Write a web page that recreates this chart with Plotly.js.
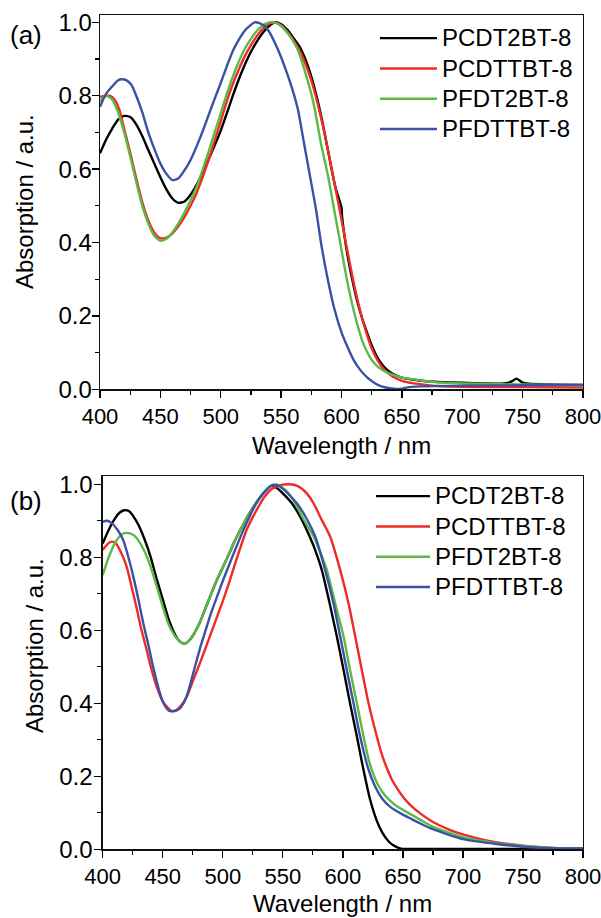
<!DOCTYPE html>
<html>
<head>
<meta charset="utf-8">
<script src="https://cdn.plot.ly/plotly-3.0.1.min.js"></script>
<style>
html,body{margin:0;padding:0;background:#fff;}
#chart{width:601px;height:918px;}
</style>
</head>
<body>
<div id="chart"></div>
<script>
// ---------- DATA ----------
const seriesNames = ['PCDT2BT-8', 'PCDTTBT-8', 'PFDT2BT-8', 'PFDTTBT-8'];
const xTickValues = [400, 450, 500, 550, 600, 650, 700, 750, 800];
const yTickValues = [0.0, 0.2, 0.4, 0.6, 0.8, 1.0];

// Panel (a)
const a_PCDT2BT_x = [400,405,410,415,420,425,430,435,440,445,450,455,460,465,470,475,480,485,490,495,500,505,510,515,520,525,530,535,540,545,550,555,560,565,570,575,580,585,590,595,600,600.5,605,610,615,620,625,630,635,640,645,650,660,670,680,700,720,735,740,745,750,755,770,800];
const a_PCDT2BT_y = [0.643,0.68,0.71,0.735,0.745,0.742,0.722,0.69,0.652,0.615,0.578,0.545,0.52,0.508,0.512,0.53,0.557,0.59,0.627,0.665,0.705,0.752,0.80,0.845,0.885,0.92,0.948,0.972,0.99,1.0,0.995,0.98,0.958,0.935,0.90,0.852,0.79,0.715,0.63,0.55,0.495,0.47,0.365,0.282,0.216,0.165,0.12,0.085,0.062,0.047,0.038,0.032,0.026,0.022,0.02,0.018,0.016,0.016,0.02,0.029,0.018,0.015,0.013,0.012];

const a_PCDTTBT_x = [400,405,408,412,416,420,425,430,435,440,445,450,455,460,465,470,475,480,485,490,495,500,505,510,515,520,525,530,535,540,545,550,555,560,565,570,575,580,585,590,595,600,605,610,615,620,625,630,635,640,645,650,660,670,680,700,750,800];
const a_PCDTTBT_y = [0.797,0.80,0.80,0.79,0.762,0.71,0.645,0.575,0.51,0.46,0.427,0.412,0.413,0.425,0.445,0.47,0.50,0.535,0.578,0.625,0.678,0.73,0.785,0.832,0.872,0.908,0.938,0.963,0.983,0.996,1.0,0.992,0.975,0.952,0.925,0.888,0.842,0.782,0.712,0.632,0.548,0.462,0.375,0.292,0.22,0.16,0.112,0.078,0.055,0.04,0.03,0.023,0.016,0.012,0.009,0.007,0.006,0.005];

const a_PFDT2BT_x = [400,405,410,415,420,425,430,435,440,445,450,455,460,465,470,475,480,485,490,495,500,505,510,515,520,525,530,535,540,545,550,555,561,565,571,575,578,583,589,594,599,604,610,618,625,630,637.5,645,650,660,670,680,700,750,800];
const a_PFDT2BT_y = [0.785,0.80,0.79,0.755,0.70,0.635,0.565,0.50,0.452,0.418,0.405,0.41,0.428,0.452,0.482,0.515,0.552,0.598,0.648,0.70,0.752,0.805,0.852,0.893,0.928,0.955,0.977,0.992,1.0,0.999,0.99,0.972,0.943,0.915,0.852,0.805,0.761,0.67,0.579,0.488,0.398,0.307,0.216,0.125,0.08,0.062,0.046,0.037,0.032,0.027,0.022,0.019,0.016,0.013,0.011];

const a_PFDTTBT_x = [400,405,410,415,418,422,426,430,435,440,445,450,455,460,465,470,475,480,485,490,495,500,505,510,515,520,525,528,532,536,540,545,550,555,560,564,569,574,579,583,588,594,600,605,610,615,621,627,633,640,646,650,656,665,700,750,800];
const a_PFDTTBT_y = [0.77,0.805,0.825,0.842,0.845,0.842,0.83,0.80,0.755,0.70,0.655,0.615,0.587,0.57,0.575,0.597,0.625,0.662,0.703,0.748,0.792,0.835,0.88,0.922,0.953,0.978,0.993,1.0,0.998,0.99,0.975,0.943,0.905,0.86,0.81,0.761,0.67,0.579,0.488,0.40,0.31,0.22,0.155,0.115,0.08,0.055,0.033,0.018,0.008,0.003,0.001,0.002,0.006,0.008,0.01,0.011,0.012];

// Panel (b)
const b_PCDT2BT_x = [400,405,410,414,418,422,426,430,435,440,445,450,455,460,464,468,472,476,480,485,490,495,500,506,510,515,520,525,530,535,540,545,550,557.5,565,573,577.5,582.5,589,595,600.6,606,611.7,615.8,619,622.8,628.3,633,638,642,646.4,650,660,700,750,800];
const b_PCDT2BT_y = [0.838,0.875,0.905,0.922,0.929,0.926,0.91,0.887,0.848,0.80,0.74,0.685,0.63,0.59,0.57,0.563,0.572,0.59,0.615,0.655,0.697,0.737,0.772,0.815,0.845,0.877,0.908,0.935,0.96,0.98,0.995,0.99,0.975,0.948,0.908,0.852,0.815,0.765,0.674,0.583,0.491,0.40,0.309,0.24,0.19,0.135,0.078,0.045,0.022,0.011,0.004,0.001,0.001,0.001,0.001,0.001];

const b_PCDTTBT_x = [400,404,407.5,411,415,420,424,428,432,436.6,440,445,450,453.3,457.5,461,465,470,475,481,490,500,506,510,515,520,525,530,534,540,545,550,555,560,565,570,575.6,582,589.4,597.8,604.7,610.3,615.8,621.4,628.3,632,636.7,641,646,651,656,665,675,690,700,725,750,775,800];
const b_PCDTTBT_y = [0.82,0.836,0.843,0.838,0.815,0.774,0.72,0.665,0.605,0.546,0.50,0.445,0.405,0.391,0.379,0.381,0.393,0.418,0.46,0.51,0.59,0.68,0.738,0.78,0.83,0.876,0.91,0.94,0.962,0.985,0.995,0.999,1.0,0.998,0.99,0.975,0.948,0.905,0.857,0.765,0.674,0.583,0.491,0.40,0.309,0.265,0.222,0.19,0.163,0.14,0.122,0.097,0.075,0.052,0.041,0.021,0.01,0.004,0.002];

const b_PFDT2BT_x = [400,405,410,414,418,422,426,430,435,440,445,450,455,460,464,468,472,476,480,485,490,495,500,506,510,515,520,525,530,535,540,545,550,555,560.3,568,575.6,581,586.7,593.6,600.6,606,611.7,617.2,622,626,630,635,640,645,650,656,665,675,700,725,750,775,800];
const b_PFDT2BT_y = [0.751,0.80,0.838,0.857,0.866,0.866,0.86,0.845,0.815,0.773,0.72,0.665,0.615,0.585,0.57,0.563,0.572,0.59,0.615,0.655,0.697,0.737,0.772,0.815,0.845,0.877,0.908,0.935,0.96,0.98,0.995,0.999,0.99,0.975,0.948,0.90,0.857,0.815,0.765,0.674,0.583,0.491,0.40,0.309,0.24,0.20,0.172,0.148,0.131,0.118,0.108,0.097,0.08,0.062,0.033,0.018,0.009,0.004,0.002];

const b_PFDTTBT_x = [400,403.3,407,412,417,421,425.5,430,433.8,438,442,447.7,451,455,460,464,467,471,476,481,486,490,495,500,506,510,515,520,525,530,535,540,545,550,555,561.7,570,577,585.3,592.2,597.8,603.3,608.9,614.4,621.4,626,632.5,640,650,656,665,675,700,725,750,775,800];
const b_PFDTTBT_y = [0.897,0.90,0.895,0.877,0.848,0.805,0.747,0.68,0.619,0.56,0.50,0.427,0.398,0.38,0.379,0.385,0.398,0.43,0.49,0.55,0.603,0.645,0.69,0.735,0.785,0.818,0.858,0.895,0.93,0.958,0.98,0.996,0.998,0.988,0.972,0.948,0.905,0.857,0.765,0.674,0.583,0.491,0.40,0.309,0.218,0.178,0.14,0.115,0.095,0.085,0.07,0.055,0.028,0.016,0.007,0.003,0.002];

// ---------- STYLE ----------
const colors = ['#000000', '#ee2b24', '#5cb946', '#3a52a6'];
const FONT = 'Liberation Sans, Arial, Helvetica, sans-serif';

const panelA = [[a_PCDT2BT_x,a_PCDT2BT_y],[a_PCDTTBT_x,a_PCDTTBT_y],[a_PFDT2BT_x,a_PFDT2BT_y],[a_PFDTTBT_x,a_PFDTTBT_y]];
const panelB = [[b_PCDT2BT_x,b_PCDT2BT_y],[b_PCDTTBT_x,b_PCDTTBT_y],[b_PFDT2BT_x,b_PFDT2BT_y],[b_PFDTTBT_x,b_PFDTTBT_y]];

const legendLabel = n => '<span style="font-size:24px">' + n + '</span>';

const traces = [];
panelA.forEach((s, i) => traces.push({
  x: s[0], y: s[1], name: legendLabel(seriesNames[i]), type: 'scatter', mode: 'lines',
  line: {color: colors[i], width: 2.4, shape: 'spline', smoothing: 0.6},
  xaxis: 'x', yaxis: 'y', legend: 'legend'
}));
panelB.forEach((s, i) => traces.push({
  x: s[0], y: s[1], name: legendLabel(seriesNames[i]), type: 'scatter', mode: 'lines',
  line: {color: colors[i], width: 2.4, shape: 'spline', smoothing: 0.6},
  xaxis: 'x2', yaxis: 'y2', legend: 'legend2'
}));

function xAxis(domain, anchor) {
  return {
    domain: domain, anchor: anchor, range: [400, 800],
    tickvals: xTickValues, ticktext: xTickValues.map(String),
    ticks: 'outside', ticklen: 7, tickwidth: 1.3, tickcolor: '#000',
    minor: {ticks: 'outside', ticklen: 4, tickwidth: 1.3, tickcolor: '#000', dtick: 25, tick0: 400, showgrid: false},
    showline: true, linecolor: '#111', linewidth: 1.3, mirror: true,
    showgrid: false, zeroline: false, ticklabeloverflow: 'allow',
    tickfont: {family: FONT, size: 22, color: '#000'}
  };
}
function yAxis(domain, anchor, top, standoff) {
  return {
    domain: domain, anchor: anchor, range: [0, top],
    tickvals: yTickValues, ticktext: yTickValues.map(v => v.toFixed(1)),
    ticks: 'outside', ticklen: 7, tickwidth: 1.3, tickcolor: '#000',
    minor: {ticks: 'outside', ticklen: 4, tickwidth: 1.3, tickcolor: '#000', dtick: 0.1, tick0: 0, showgrid: false},
    showline: true, linecolor: '#111', linewidth: 1.3, mirror: true,
    showgrid: false, zeroline: false, ticklabeloverflow: 'allow',
    ticklabelstandoff: standoff,
    tickfont: {family: FONT, size: 24, color: '#000'}
  };
}

const W = 601, H = 918;
const layout = {
  width: W, height: H,
  margin: {l: 0, r: 0, t: 0, b: 0},
  paper_bgcolor: '#fff', plot_bgcolor: '#fff',
  font: {family: FONT, color: '#000'},
  showlegend: true,
  xaxis: xAxis([100/W, 583/W], 'y'),
  yaxis: yAxis([1 - 389.3/H, 1 - 15/H], 'x', 1.02, -5),
  xaxis2: xAxis([102.7/W, 583/W], 'y2'),
  yaxis2: yAxis([1 - 849.3/H, 1 - 476/H], 'x2', 1.0227, -3),
  legend: {
    x: 375/W, y: 1 - 18/H, xanchor: 'left', yanchor: 'top',
    bgcolor: 'rgba(0,0,0,0)', borderwidth: 0, itemwidth: 57,
    font: {family: FONT, size: 21, color: '#000'}, tracegroupgap: 0
  },
  legend2: {
    x: 371/W, y: 1 - 476/H, xanchor: 'left', yanchor: 'top',
    bgcolor: 'rgba(0,0,0,0)', borderwidth: 0, itemwidth: 54,
    font: {family: FONT, size: 21, color: '#000'}, tracegroupgap: 0
  },
  annotations: [
    {text: '(a)', x: 26/W, y: 1 - 35/H, xref: 'paper', yref: 'paper', xanchor: 'center', yanchor: 'middle', showarrow: false, font: {family: FONT, size: 26, color: '#000'}},
    {text: '(b)', x: 26/W, y: 1 - 501/H, xref: 'paper', yref: 'paper', xanchor: 'center', yanchor: 'middle', showarrow: false, font: {family: FONT, size: 26, color: '#000'}},
    {text: 'Absorption / a.u.', x: 25/W, y: 1 - 202/H, xref: 'paper', yref: 'paper', xanchor: 'center', yanchor: 'middle', textangle: -90, showarrow: false, font: {family: FONT, size: 24, color: '#000'}},
    {text: 'Absorption / a.u.', x: 34/W, y: 1 - 646/H, xref: 'paper', yref: 'paper', xanchor: 'center', yanchor: 'middle', textangle: -90, showarrow: false, font: {family: FONT, size: 24, color: '#000'}},
    {text: 'Wavelength / nm', x: 341.5/W, y: 1 - 445/H, xref: 'paper', yref: 'paper', xanchor: 'center', yanchor: 'middle', showarrow: false, font: {family: FONT, size: 24, color: '#000'}},
    {text: 'Wavelength / nm', x: 342.8/W, y: 1 - 903/H, xref: 'paper', yref: 'paper', xanchor: 'center', yanchor: 'middle', showarrow: false, font: {family: FONT, size: 24, color: '#000'}}
  ]
};

Plotly.newPlot('chart', traces, layout, {staticPlot: true, displayModeBar: false});
</script>
</body>
</html>
